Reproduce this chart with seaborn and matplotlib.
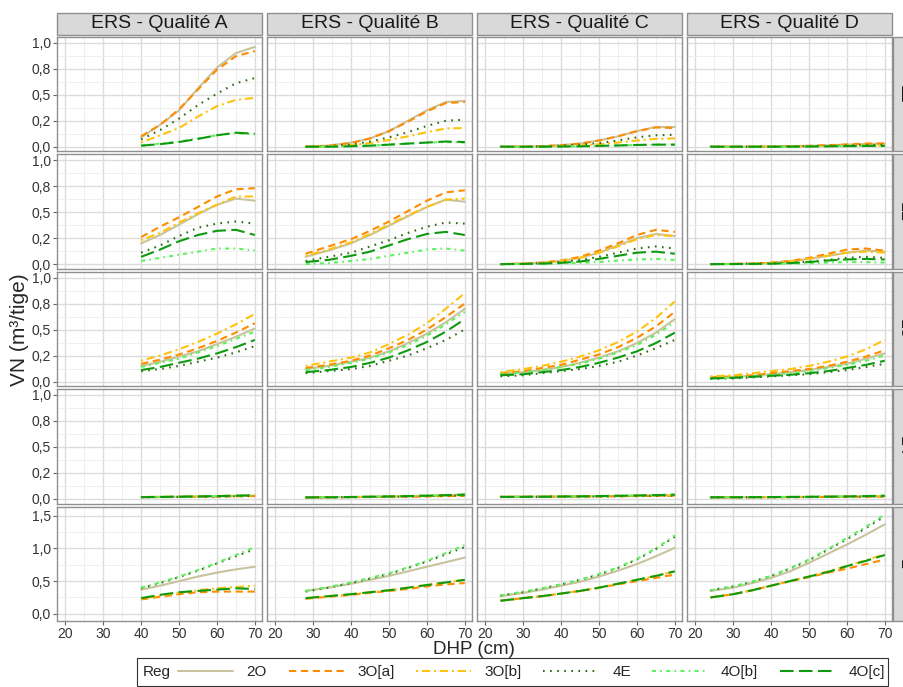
import matplotlib
matplotlib.use("Agg")
import matplotlib.pyplot as plt
from matplotlib.lines import Line2D
from matplotlib.patches import Rectangle
from matplotlib.ticker import MultipleLocator, FuncFormatter
import pandas as pd
import seaborn as sns

QUALITES = ["ERS - Qualité A", "ERS - Qualité B", "ERS - Qualité C", "ERS - Qualité D"]
CLASSES = ["11", "12", "13", "14", "1"]
REGS = ["2O", "3O[a]", "3O[b]", "4E", "4O[b]", "4O[c]"]

DHP_A = [40, 45, 50, 55, 60, 65, 70]
DHP_B = [28, 34, 40, 45, 50, 55, 60, 65, 70]
DHP_C = [24, 30, 35, 40, 45, 50, 55, 60, 65, 70]
DHP_D = [24, 30, 35, 40, 45, 50, 55, 60, 65, 70]

# --- classe 11 ---
VN_11_A = {
    "2O":    [0.09, 0.21, 0.35, 0.56, 0.76, 0.90, 0.96],
    "3O[a]": [0.10, 0.21, 0.36, 0.55, 0.74, 0.87, 0.92],
    "3O[b]": [0.04, 0.11, 0.18, 0.29, 0.39, 0.45, 0.47],
    "4E":    [0.07, 0.16, 0.27, 0.40, 0.51, 0.61, 0.66],
    "4O[b]": [0.01, 0.03, 0.05, 0.08, 0.11, 0.13, 0.12],
    "4O[c]": [0.01, 0.025, 0.045, 0.075, 0.11, 0.135, 0.125],
}
VN_11_B = {
    "2O":    [0.0, 0.01, 0.04, 0.08, 0.15, 0.25, 0.35, 0.43, 0.44],
    "3O[a]": [0.0, 0.01, 0.035, 0.08, 0.15, 0.24, 0.34, 0.42, 0.43],
    "3O[b]": [0.0, 0.005, 0.015, 0.035, 0.065, 0.10, 0.14, 0.175, 0.18],
    "4E":    [0.0, 0.005, 0.02, 0.05, 0.09, 0.14, 0.20, 0.25, 0.26],
    "4O[b]": [0.0, 0.0, 0.005, 0.01, 0.02, 0.03, 0.04, 0.045, 0.04],
    "4O[c]": [0.0, 0.0, 0.005, 0.01, 0.02, 0.03, 0.04, 0.05, 0.045],
}
VN_11_C = {
    "2O":    [0.0, 0.0, 0.005, 0.015, 0.03, 0.06, 0.10, 0.15, 0.19, 0.19],
    "3O[a]": [0.0, 0.0, 0.005, 0.015, 0.03, 0.06, 0.10, 0.15, 0.185, 0.18],
    "3O[b]": [0.0, 0.0, 0.002, 0.006, 0.012, 0.025, 0.04, 0.06, 0.075, 0.08],
    "4E":    [0.0, 0.0, 0.003, 0.01, 0.02, 0.035, 0.06, 0.09, 0.11, 0.115],
    "4O[b]": [0.0, 0.0, 0.0, 0.002, 0.004, 0.008, 0.012, 0.016, 0.02, 0.02],
    "4O[c]": [0.0, 0.0, 0.0, 0.002, 0.004, 0.008, 0.012, 0.017, 0.02, 0.02],
}
VN_11_D = {
    "2O":    [0.0, 0.0, 0.0, 0.002, 0.005, 0.008, 0.013, 0.02, 0.027, 0.03],
    "3O[a]": [0.0, 0.0, 0.0, 0.002, 0.005, 0.009, 0.015, 0.022, 0.03, 0.032],
    "3O[b]": [0.0, 0.0, 0.0, 0.001, 0.002, 0.004, 0.006, 0.009, 0.011, 0.012],
    "4E":    [0.0, 0.0, 0.0, 0.001, 0.003, 0.005, 0.008, 0.012, 0.016, 0.018],
    "4O[b]": [0.0, 0.0, 0.0, 0.0, 0.001, 0.002, 0.004, 0.005, 0.007, 0.007],
    "4O[c]": [0.0, 0.0, 0.0, 0.0, 0.001, 0.002, 0.004, 0.006, 0.008, 0.008],
}

# --- classe 12 ---
VN_12_A = {
    "2O":    [0.20, 0.28, 0.38, 0.48, 0.57, 0.63, 0.61],
    "3O[a]": [0.26, 0.36, 0.45, 0.55, 0.65, 0.72, 0.73],
    "3O[b]": [0.23, 0.30, 0.40, 0.49, 0.57, 0.65, 0.65],
    "4E":    [0.11, 0.18, 0.27, 0.35, 0.39, 0.41, 0.39],
    "4O[b]": [0.03, 0.06, 0.09, 0.12, 0.15, 0.15, 0.13],
    "4O[c]": [0.07, 0.14, 0.22, 0.28, 0.32, 0.33, 0.28],
}
VN_12_B = {
    "2O":    [0.07, 0.13, 0.20, 0.28, 0.37, 0.46, 0.55, 0.62, 0.60],
    "3O[a]": [0.10, 0.17, 0.24, 0.32, 0.41, 0.51, 0.61, 0.69, 0.71],
    "3O[b]": [0.08, 0.14, 0.21, 0.29, 0.38, 0.47, 0.55, 0.62, 0.63],
    "4E":    [0.03, 0.07, 0.11, 0.17, 0.23, 0.30, 0.36, 0.40, 0.39],
    "4O[b]": [0.0, 0.01, 0.03, 0.05, 0.08, 0.11, 0.14, 0.15, 0.13],
    "4O[c]": [0.02, 0.04, 0.08, 0.12, 0.18, 0.24, 0.29, 0.31, 0.28],
}
VN_12_C = {
    "2O":    [0.0, 0.005, 0.015, 0.03, 0.06, 0.11, 0.18, 0.25, 0.29, 0.27],
    "3O[a]": [0.0, 0.005, 0.015, 0.035, 0.07, 0.13, 0.20, 0.28, 0.33, 0.31],
    "3O[b]": [0.0, 0.005, 0.012, 0.03, 0.06, 0.11, 0.17, 0.24, 0.28, 0.27],
    "4E":    [0.0, 0.003, 0.008, 0.02, 0.04, 0.07, 0.11, 0.15, 0.17, 0.15],
    "4O[b]": [0.0, 0.001, 0.003, 0.006, 0.012, 0.02, 0.035, 0.045, 0.05, 0.04],
    "4O[c]": [0.0, 0.002, 0.005, 0.012, 0.025, 0.05, 0.08, 0.11, 0.12, 0.10],
}
VN_12_D = {
    "2O":    [0.0, 0.002, 0.005, 0.012, 0.03, 0.05, 0.08, 0.11, 0.13, 0.12],
    "3O[a]": [0.0, 0.002, 0.005, 0.015, 0.03, 0.06, 0.10, 0.14, 0.15, 0.13],
    "3O[b]": [0.0, 0.002, 0.005, 0.012, 0.025, 0.05, 0.08, 0.11, 0.12, 0.11],
    "4E":    [0.0, 0.001, 0.003, 0.006, 0.012, 0.025, 0.04, 0.06, 0.07, 0.06],
    "4O[b]": [0.0, 0.0, 0.001, 0.002, 0.004, 0.008, 0.015, 0.02, 0.02, 0.015],
    "4O[c]": [0.0, 0.001, 0.002, 0.004, 0.01, 0.02, 0.035, 0.045, 0.05, 0.045],
}

# --- classe 13 ---
VN_13_A = {
    "2O":    [0.15, 0.19, 0.24, 0.29, 0.36, 0.43, 0.51],
    "3O[a]": [0.17, 0.21, 0.26, 0.32, 0.39, 0.47, 0.56],
    "3O[b]": [0.20, 0.25, 0.31, 0.38, 0.46, 0.55, 0.65],
    "4E":    [0.10, 0.12, 0.15, 0.19, 0.23, 0.28, 0.34],
    "4O[b]": [0.14, 0.18, 0.22, 0.28, 0.34, 0.41, 0.48],
    "4O[c]": [0.11, 0.14, 0.18, 0.22, 0.27, 0.33, 0.40],
}
VN_13_B = {
    "2O":    [0.12, 0.15, 0.19, 0.23, 0.29, 0.37, 0.46, 0.57, 0.70],
    "3O[a]": [0.13, 0.16, 0.20, 0.25, 0.32, 0.40, 0.50, 0.62, 0.75],
    "3O[b]": [0.15, 0.19, 0.23, 0.28, 0.36, 0.45, 0.56, 0.70, 0.85],
    "4E":    [0.08, 0.10, 0.12, 0.15, 0.20, 0.25, 0.32, 0.40, 0.50],
    "4O[b]": [0.11, 0.14, 0.18, 0.22, 0.28, 0.35, 0.44, 0.55, 0.67],
    "4O[c]": [0.09, 0.11, 0.14, 0.18, 0.23, 0.30, 0.38, 0.48, 0.60],
}
VN_13_C = {
    "2O":    [0.07, 0.09, 0.11, 0.14, 0.18, 0.23, 0.29, 0.37, 0.47, 0.60],
    "3O[a]": [0.08, 0.10, 0.13, 0.16, 0.21, 0.26, 0.33, 0.42, 0.53, 0.67],
    "3O[b]": [0.09, 0.12, 0.15, 0.19, 0.24, 0.30, 0.38, 0.48, 0.61, 0.77],
    "4E":    [0.05, 0.06, 0.08, 0.10, 0.12, 0.15, 0.19, 0.25, 0.32, 0.40],
    "4O[b]": [0.07, 0.09, 0.11, 0.14, 0.17, 0.22, 0.28, 0.35, 0.45, 0.57],
    "4O[c]": [0.06, 0.07, 0.09, 0.11, 0.14, 0.18, 0.23, 0.29, 0.37, 0.47],
}
VN_13_D = {
    "2O":    [0.035, 0.045, 0.055, 0.07, 0.09, 0.11, 0.14, 0.17, 0.22, 0.27],
    "3O[a]": [0.04, 0.05, 0.06, 0.08, 0.10, 0.12, 0.15, 0.19, 0.24, 0.30],
    "3O[b]": [0.05, 0.06, 0.08, 0.10, 0.12, 0.15, 0.19, 0.24, 0.31, 0.40],
    "4E":    [0.025, 0.03, 0.04, 0.05, 0.06, 0.07, 0.09, 0.11, 0.14, 0.17],
    "4O[b]": [0.03, 0.04, 0.05, 0.065, 0.08, 0.10, 0.13, 0.16, 0.20, 0.25],
    "4O[c]": [0.03, 0.035, 0.045, 0.055, 0.065, 0.08, 0.10, 0.13, 0.16, 0.20],
}

# --- classe 14 ---
VN_14_A = {
    "2O":    [0.018, 0.019, 0.021, 0.023, 0.025, 0.028, 0.031],
    "3O[a]": [0.017, 0.018, 0.019, 0.021, 0.023, 0.025, 0.027],
    "3O[b]": [0.018, 0.020, 0.022, 0.025, 0.028, 0.032, 0.036],
    "4E":    [0.016, 0.017, 0.019, 0.021, 0.023, 0.026, 0.029],
    "4O[b]": [0.018, 0.020, 0.022, 0.025, 0.028, 0.032, 0.037],
    "4O[c]": [0.017, 0.019, 0.021, 0.024, 0.027, 0.031, 0.035],
}
VN_14_B = {
    "2O":    [0.015, 0.016, 0.018, 0.020, 0.022, 0.025, 0.028, 0.032, 0.036],
    "3O[a]": [0.014, 0.015, 0.017, 0.018, 0.020, 0.022, 0.024, 0.027, 0.030],
    "3O[b]": [0.015, 0.017, 0.019, 0.021, 0.024, 0.027, 0.031, 0.036, 0.041],
    "4E":    [0.014, 0.015, 0.017, 0.019, 0.021, 0.024, 0.027, 0.031, 0.035],
    "4O[b]": [0.015, 0.017, 0.019, 0.022, 0.025, 0.029, 0.033, 0.038, 0.044],
    "4O[c]": [0.015, 0.016, 0.018, 0.021, 0.024, 0.027, 0.031, 0.036, 0.041],
}
VN_14_C = {
    "2O":    [0.020, 0.021, 0.022, 0.023, 0.024, 0.026, 0.028, 0.030, 0.032, 0.035],
    "3O[a]": [0.019, 0.020, 0.021, 0.022, 0.023, 0.024, 0.025, 0.027, 0.029, 0.031],
    "3O[b]": [0.020, 0.021, 0.022, 0.023, 0.025, 0.027, 0.029, 0.032, 0.035, 0.039],
    "4E":    [0.018, 0.019, 0.020, 0.021, 0.022, 0.024, 0.026, 0.028, 0.030, 0.033],
    "4O[b]": [0.020, 0.021, 0.022, 0.024, 0.026, 0.028, 0.031, 0.034, 0.038, 0.042],
    "4O[c]": [0.019, 0.020, 0.021, 0.023, 0.025, 0.027, 0.030, 0.033, 0.036, 0.040],
}
VN_14_D = {
    "2O":    [0.016, 0.016, 0.017, 0.017, 0.018, 0.019, 0.020, 0.022, 0.024, 0.026],
    "3O[a]": [0.015, 0.015, 0.016, 0.016, 0.017, 0.018, 0.019, 0.020, 0.021, 0.023],
    "3O[b]": [0.016, 0.016, 0.017, 0.018, 0.019, 0.020, 0.022, 0.024, 0.026, 0.029],
    "4E":    [0.015, 0.015, 0.016, 0.016, 0.017, 0.018, 0.019, 0.021, 0.023, 0.025],
    "4O[b]": [0.016, 0.017, 0.017, 0.018, 0.019, 0.021, 0.023, 0.025, 0.028, 0.031],
    "4O[c]": [0.016, 0.016, 0.017, 0.018, 0.019, 0.020, 0.022, 0.024, 0.027, 0.030],
}

# --- classe 1 ---
VN_1_A = {
    "2O":    [0.37, 0.43, 0.50, 0.57, 0.63, 0.68, 0.72],
    "3O[a]": [0.22, 0.26, 0.30, 0.33, 0.34, 0.34, 0.34],
    "3O[b]": [0.23, 0.28, 0.32, 0.36, 0.39, 0.41, 0.43],
    "4E":    [0.39, 0.47, 0.56, 0.66, 0.77, 0.88, 0.99],
    "4O[b]": [0.40, 0.48, 0.57, 0.67, 0.78, 0.90, 1.02],
    "4O[c]": [0.24, 0.29, 0.33, 0.35, 0.37, 0.39, 0.38],
}
VN_1_B = {
    "2O":    [0.35, 0.40, 0.46, 0.52, 0.58, 0.65, 0.72, 0.79, 0.86],
    "3O[a]": [0.23, 0.26, 0.29, 0.32, 0.35, 0.38, 0.42, 0.45, 0.47],
    "3O[b]": [0.24, 0.27, 0.30, 0.33, 0.36, 0.40, 0.44, 0.48, 0.52],
    "4E":    [0.34, 0.40, 0.47, 0.54, 0.61, 0.70, 0.80, 0.91, 1.02],
    "4O[b]": [0.35, 0.41, 0.48, 0.55, 0.62, 0.71, 0.81, 0.93, 1.05],
    "4O[c]": [0.24, 0.27, 0.30, 0.33, 0.36, 0.40, 0.44, 0.48, 0.52],
}
VN_1_C = {
    "2O":    [0.27, 0.32, 0.37, 0.43, 0.49, 0.57, 0.66, 0.76, 0.88, 1.01],
    "3O[a]": [0.20, 0.24, 0.27, 0.31, 0.35, 0.40, 0.45, 0.50, 0.55, 0.60],
    "3O[b]": [0.20, 0.24, 0.27, 0.31, 0.35, 0.40, 0.46, 0.52, 0.58, 0.65],
    "4E":    [0.28, 0.33, 0.39, 0.45, 0.52, 0.60, 0.70, 0.83, 0.99, 1.18],
    "4O[b]": [0.28, 0.34, 0.39, 0.45, 0.52, 0.61, 0.71, 0.84, 1.00, 1.20],
    "4O[c]": [0.20, 0.24, 0.27, 0.31, 0.35, 0.40, 0.46, 0.52, 0.58, 0.65],
}
VN_1_D = {
    "2O":    [0.35, 0.40, 0.47, 0.55, 0.65, 0.78, 0.92, 1.06, 1.21, 1.37],
    "3O[a]": [0.25, 0.30, 0.36, 0.43, 0.50, 0.56, 0.63, 0.69, 0.76, 0.83],
    "3O[b]": [0.25, 0.30, 0.36, 0.43, 0.50, 0.57, 0.65, 0.73, 0.82, 0.91],
    "4E":    [0.36, 0.42, 0.49, 0.58, 0.69, 0.82, 0.98, 1.14, 1.31, 1.49],
    "4O[b]": [0.36, 0.42, 0.49, 0.58, 0.70, 0.83, 0.99, 1.16, 1.33, 1.52],
    "4O[c]": [0.25, 0.30, 0.36, 0.43, 0.50, 0.57, 0.64, 0.73, 0.81, 0.90],
}

PALETTE = {
    "2O": "#C9C39D",
    "3O[a]": "#FF8C00",
    "3O[b]": "#FFC20E",
    "4E": "#2F6A12",
    "4O[b]": "#5EF25E",
    "4O[c]": "#0E9A0E",
}
DASHES = {
    "2O": "",
    "3O[a]": (3.5, 2.2),
    "3O[b]": (1.0, 1.8, 4.0, 1.8),
    "4E": (0.8, 2.6),
    "4O[b]": (2.0, 2.0, 0.8, 2.0),
    "4O[c]": (6.5, 2.6),
}

DHP_BY_Q = dict(zip(QUALITES, [DHP_A, DHP_B, DHP_C, DHP_D]))
PANELS = {
    "11": [VN_11_A, VN_11_B, VN_11_C, VN_11_D],
    "12": [VN_12_A, VN_12_B, VN_12_C, VN_12_D],
    "13": [VN_13_A, VN_13_B, VN_13_C, VN_13_D],
    "14": [VN_14_A, VN_14_B, VN_14_C, VN_14_D],
    "1": [VN_1_A, VN_1_B, VN_1_C, VN_1_D],
}

records = []
for classe, per_q in PANELS.items():
    for qual, series in zip(QUALITES, per_q):
        for reg in REGS:
            for d, v in zip(DHP_BY_Q[qual], series[reg]):
                records.append({"Classe": classe, "Qualite": qual, "Reg": reg, "DHP": d, "VN": v})
df = pd.DataFrame(records)

sns.set_theme(style="white")
plt.rcParams["font.family"] = ["Liberation Sans", "DejaVu Sans"]

W, H = 904, 687
g = sns.FacetGrid(df, row="Classe", col="Qualite", row_order=CLASSES, col_order=QUALITES,
                  sharex=True, sharey="row", height=1.3, aspect=1.7, despine=False)
g.map_dataframe(sns.lineplot, x="DHP", y="VN", hue="Reg", style="Reg",
                hue_order=REGS, style_order=REGS, palette=PALETTE, dashes=DASHES,
                linewidth=1.5, estimator=None, sort=True, legend=False)
g.set_titles("")
g.set_axis_labels("", "")
fig = g.figure
fig.set_size_inches(W / 100, H / 100)
fig.set_dpi(100)

left, right, top, bottom = 57, 892, 37, 621
fig.subplots_adjust(left=left / W, right=right / W, top=1 - top / H, bottom=1 - bottom / H,
                    wspace=5 / 205, hspace=3 / 114.4)

fmt = FuncFormatter(lambda v, _: format(v, ".1f").replace(".", ","))
for i, row_axes in enumerate(g.axes):
    for j, ax in enumerate(row_axes):
        ax.set_facecolor("white")
        ax.set_xlim(17.8, 71.9)
        ax.xaxis.set_major_locator(MultipleLocator(10))
        ax.xaxis.set_minor_locator(MultipleLocator(5))
        if i < 4:
            ax.set_ylim(-0.045, 1.055)
            ax.yaxis.set_major_locator(MultipleLocator(0.25))
            ax.yaxis.set_minor_locator(MultipleLocator(0.125))
        else:
            ax.set_ylim(-0.11, 1.64)
            ax.yaxis.set_major_locator(MultipleLocator(0.5))
            ax.yaxis.set_minor_locator(MultipleLocator(0.25))
        ax.yaxis.set_major_formatter(fmt)
        ax.grid(which="major", color="#DCDCDC", linewidth=1.0)
        ax.grid(which="minor", color="#EDEDED", linewidth=0.6)
        ax.set_axisbelow(True)
        for s in ax.spines.values():
            s.set_color("#8F8F8F")
            s.set_linewidth(1.0)
        ax.tick_params(which="major", length=3, width=0.8, color="#666666",
                       labelsize=10, labelcolor="#333333", pad=1.5,
                       bottom=(i == 4), left=(j == 0))
        ax.tick_params(which="minor", length=0)
        ax.set_xlabel("")
        ax.set_ylabel("")

# column strips on top
for j, ax in enumerate(g.axes[0]):
    pos = ax.get_position()
    y0 = 1 - 35 / H
    h = 22 / H
    fig.add_artist(Rectangle((pos.x0, y0), pos.width, h, transform=fig.transFigure,
                             facecolor="#D9D9D9", edgecolor="#8F8F8F", linewidth=1.0))
    fig.text(pos.x0 + pos.width / 2, y0 + h / 2, QUALITES[j], ha="center", va="center",
             fontsize=14, color="#1A1A1A")

# row strips on the right (they run past the edge of the figure)
for i, ax in enumerate(g.axes[:, -1]):
    pos = ax.get_position()
    x0 = 893 / W
    fig.add_artist(Rectangle((x0, pos.y0), 30 / W, pos.height, transform=fig.transFigure,
                             facecolor="#D9D9D9", edgecolor="#8F8F8F", linewidth=1.0))
    fig.text(904.0 / W, pos.y0 + pos.height / 2, CLASSES[i], ha="center", va="center",
             rotation=-90, fontsize=13, color="#1A1A1A", zorder=5)

# axis titles
fig.text(474 / W, 1 - 649 / H, "DHP (cm)", ha="center", va="center", fontsize=13.5)
fig.text(20 / W, 1 - 330 / H, "VN (m³/tige)", ha="center", va="center", rotation=90, fontsize=15)

# legend box at the bottom
box_l, box_r, box_t, box_b = 137, 888, 658, 686
fig.add_artist(Rectangle((box_l / W, 1 - box_b / H), (box_r - box_l) / W, (box_b - box_t) / H,
                         transform=fig.transFigure, facecolor="white", edgecolor="#333333",
                         linewidth=0.8))
ymid = 1 - (box_t + box_b) / 2 / H
fig.text(143 / W, ymid, "Reg", ha="left", va="center", fontsize=11)
handles = []
for r in REGS:
    if DASHES[r] == "":
        hd = Line2D([], [], color=PALETTE[r], linewidth=1.5, linestyle="-")
    else:
        hd = Line2D([], [], color=PALETTE[r], linewidth=1.5, dashes=DASHES[r])
    handles.append(hd)
fig.legend(handles, REGS, loc="center left", bbox_to_anchor=(178 / W, ymid), ncol=6,
           frameon=False, fontsize=11, handlelength=3.6, handletextpad=0.9,
           columnspacing=1.4, borderaxespad=0, borderpad=0)

fig.savefig("out.png", dpi=100)
